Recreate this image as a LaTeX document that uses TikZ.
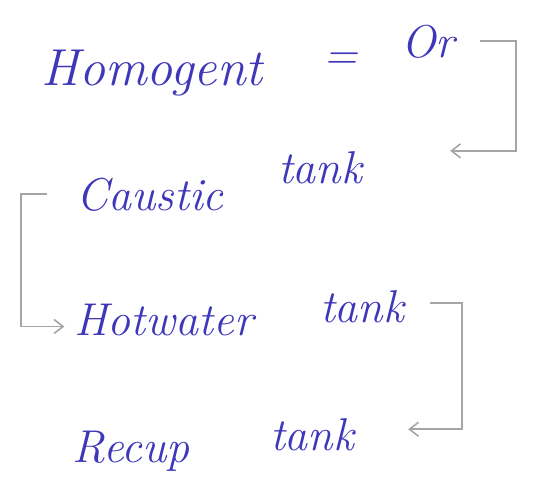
\documentclass[tikz,border=0pt]{standalone}
\usetikzlibrary{arrows.meta}
\definecolor{ink}{RGB}{62,55,185}
\definecolor{pencil}{RGB}{165,165,165}
\begin{document}
\begin{tikzpicture}[x=1pt,y=-1pt,
  word/.style={text=ink,font=\fontsize{46}{52}\selectfont\itshape,inner sep=0pt,anchor=base},
  link/.style={draw=pencil,line width=1.6pt,-{Straight Barb[length=9pt,width=14pt]}}]
  \useasboundingbox (0,0) rectangle (540,495);

  % words
  \node[word,font=\fontsize{52}{58}\selectfont\itshape] (homog) at (152,85) {Homogent};
  \node[word] (eq) at (341,70) {=};
  \node[word] (or) at (428,57) {Or};
  \node[word] (caustic) at (150,210) {Caustic};
  \node[word] (tank1) at (320,183) {tank};
  \node[word] (hotwater) at (164,335) {Hotwater};
  \node[word] (tank2) at (362,322) {tank};
  \node[word] (recup) at (131,462) {Recup};
  \node[word] (tank3) at (312,450) {tank};

  % brackets
  \draw[link] ([xshift=25pt]or.east) -- ++(36,0) |- ([xshift=88pt]tank1.north east);
  \draw[link] ([xshift=-29pt]caustic.west) -- ++(-26,0) |- ([xshift=-10pt,yshift=-7pt]hotwater.west);
  \draw[link] ([xshift=26pt,yshift=3pt]tank2.east) -- ++(32,0) |- ([xshift=54pt,yshift=5pt]tank3.east);
\end{tikzpicture}
\end{document}
